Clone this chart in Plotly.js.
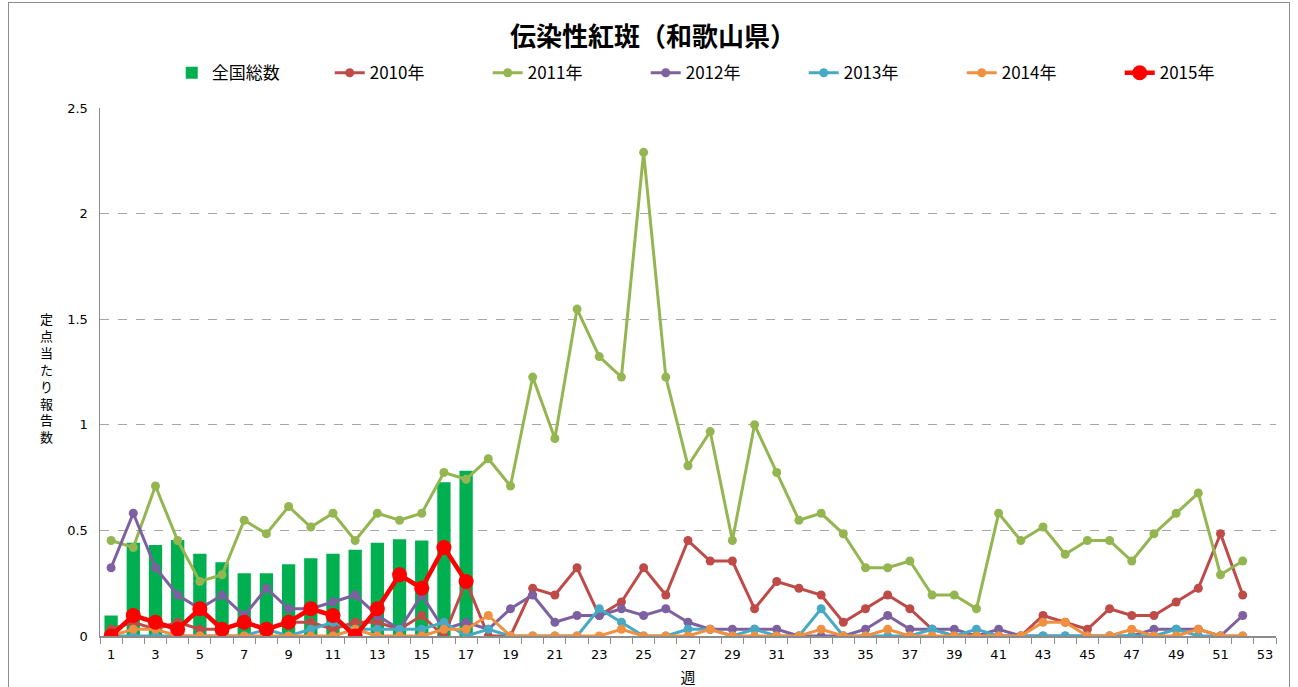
<!DOCTYPE html>
<html>
<head>
<meta charset="utf-8">
<script src="https://cdn.plot.ly/plotly-3.0.1.min.js"></script>
<style>
html,body{margin:0;padding:0;background:#fff;}
#frame{position:absolute;left:8px;top:2px;width:1282px;height:700px;border:1px solid #8c8c8c;box-sizing:border-box;pointer-events:none;}
#chart{position:absolute;left:0;top:0;width:1298px;height:687px;}
</style>
</head>
<body>
<div id="chart"></div>
<div id="frame"></div>
<script>
// Weeks
const weeks = [];
for (let i = 1; i <= 52; i++) weeks.push(i);
const barWeeks = [1,2,3,4,5,6,7,8,9,10,11,12,13,14,15,16,17];
const tickWeeks = [1,3,5,7,9,11,13,15,17,19,21,23,25,27,29,31,33,35,37,39,41,43,45,47,49,51,53];

// 全国総数 (bars)
const national = [0.097,0.442,0.431,0.455,0.389,0.349,0.297,0.297,0.34,0.368,0.389,0.408,0.442,0.458,0.452,0.728,0.782];

const y2010 = [0.032,0.065,0.032,0.065,0.032,0.032,0.065,0.032,0.065,0.065,
               0.032,0.065,0.065,0.032,0.097,0,0.258,0,0,0.226,
               0.194,0.323,0.097,0.161,0.323,0.194,0.452,0.355,0.355,0.129,
               0.258,0.226,0.194,0.065,0.129,0.194,0.129,0.032,0,0,
               0,0,0.097,0.065,0.032,0.129,0.097,0.097,0.161,0.226,
               0.484,0.194];
const y2011 = [0.452,0.419,0.71,0.452,0.258,0.29,0.548,0.484,0.613,0.516,
               0.581,0.452,0.581,0.548,0.581,0.774,0.742,0.839,0.71,1.226,
               0.935,1.548,1.323,1.226,2.29,1.226,0.806,0.968,0.452,1.0,
               0.774,0.548,0.581,0.484,0.323,0.323,0.355,0.194,0.194,0.129,
               0.581,0.452,0.516,0.387,0.452,0.452,0.355,0.484,0.581,0.677,
               0.29,0.355];
const y2012 = [0.323,0.581,0.323,0.194,0.129,0.194,0.097,0.226,0.129,0.129,
               0.161,0.194,0.097,0.032,0.194,0.032,0.065,0.032,0.129,0.194,
               0.065,0.097,0.097,0.129,0.097,0.129,0.065,0.032,0.032,0.032,
               0.032,0,0,0,0.032,0.097,0.032,0.032,0.032,0,
               0.032,0,0,0,0,0,0,0.032,0.032,0.032,
               0,0.097];
const y2013 = [0,0,0,0,0,0,0,0.032,0,0.032,
               0.065,0.032,0.032,0.032,0.032,0.065,0,0.032,0,0,
               0,0,0.129,0.065,0,0,0.032,0.032,0,0.032,
               0,0,0.129,0,0,0,0,0.032,0,0.032,
               0,0,0,0,0,0,0,0,0.032,0,
               0,0];
const y2014 = [0,0.032,0.032,0,0,0,0,0,0,0,
               0,0.032,0,0,0,0.032,0.032,0.097,0,0,
               0,0,0,0.032,0,0,0,0.032,0,0,
               0,0,0.032,0,0,0.032,0,0,0,0,
               0,0,0.065,0.065,0,0,0.032,0,0,0.032,
               0,0];
const y2015 = [0,0.097,0.065,0.032,0.129,0.032,0.065,0.032,0.065,0.129,
               0.097,0,0.129,0.29,0.226,0.419,0.258];

const seriesNames = ['全国総数','2010年','2011年','2012年','2013年','2014年','2015年'];
const colors = ['#00B050','#BE4B48','#94B650','#7D60A0','#46AAC5','#F09040','#FF0000'];

function lineTrace(name, x, y, color, w, ms) {
  return {type:'scatter', mode:'lines+markers', name:name, x:x, y:y,
          line:{color:color, width:w}, marker:{color:color, size:ms}};
}

const data = [
  {type:'bar', name:seriesNames[0], x:barWeeks, y:national, marker:{color:colors[0]}, width:0.6},
  lineTrace(seriesNames[1], weeks, y2010, colors[1], 3, 9),
  lineTrace(seriesNames[2], weeks, y2011, colors[2], 3, 9),
  lineTrace(seriesNames[3], weeks, y2012, colors[3], 3, 9),
  lineTrace(seriesNames[4], weeks, y2013, colors[4], 3, 9),
  lineTrace(seriesNames[5], weeks, y2014, colors[5], 3, 9),
  lineTrace(seriesNames[6], barWeeks, y2015, colors[6], 4.5, 15)
];

const layout = {
  width:1298, height:687,
  margin:{l:100, r:22, t:108, b:51},
  paper_bgcolor:'rgba(0,0,0,0)', plot_bgcolor:'#fff',
  font:{family:'"Noto Sans CJK JP", "Liberation Sans", sans-serif', color:'#000'},
  title:{text:'<b>伝染性紅斑（和歌山県）</b>', x:0.503, xanchor:'center', y:0.946, yanchor:'middle',
         font:{size:26, color:'#000', family:'"Noto Sans CJK JP", sans-serif'}},
  showlegend:true,
  legend:{orientation:'h', x:0.061, xanchor:'left', y:1.066, yanchor:'middle',
          entrywidth:113, font:{size:17, color:'#000'}, bgcolor:'rgba(0,0,0,0)', traceorder:'normal'},
  bargap:0.4,
  xaxis:{range:[0.5,53.5], tickmode:'array', tickvals:tickWeeks, ticktext:tickWeeks.map(String),
         ticks:'', showgrid:false, zeroline:false, showline:true, linecolor:'#8c8c8c', linewidth:1.5,
         tickfont:{size:13, family:'"DejaVu Sans", sans-serif', color:'#000'}, ticklabelstandoff:6,
         minor:{tick0:0.5, dtick:1, ticks:'outside', ticklen:6, tickcolor:'#8c8c8c', tickwidth:1, showgrid:false},
         title:{text:'週', font:{size:15, color:'#000'}, standoff:14}},
  yaxis:{range:[0,2.5], tickmode:'array', tickvals:[0,0.5,1,1.5,2,2.5], ticktext:['0','0.5','1','1.5','2','2.5'],
         ticks:'', showgrid:true, gridcolor:'#a6a6a6', griddash:'dash', gridwidth:1,
         zeroline:false, showline:true, linecolor:'#8c8c8c', linewidth:1.5,
         tickfont:{size:13, family:'"DejaVu Sans", sans-serif', color:'#000'}, ticklabelstandoff:8},
  annotations:[{xref:'paper', yref:'paper', x:(46-100)/1176, y:(636-377)/528, xanchor:'center', yanchor:'middle',
                showarrow:false, text:'定<br>点<br>当<br>た<br>り<br>報<br>告<br>数',
                font:{size:13, color:'#000'}}]
};

Plotly.newPlot('chart', data, layout, {displayModeBar:false, staticPlot:true});
</script>
</body>
</html>
